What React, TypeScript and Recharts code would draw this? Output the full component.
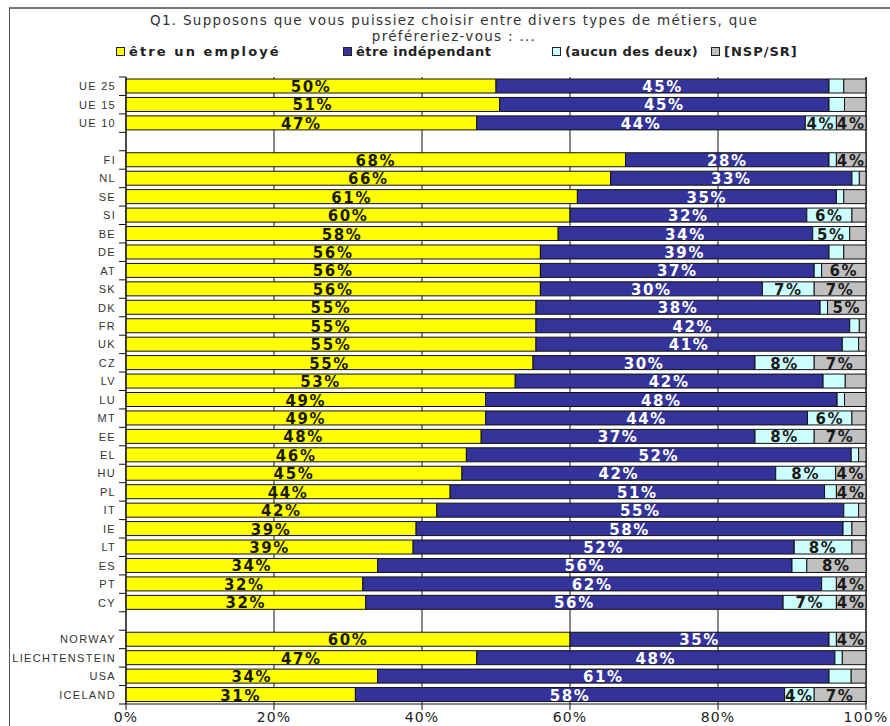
import React from 'react';
import { BarChart, Bar, XAxis, YAxis, CartesianGrid, LabelList } from 'recharts';

const categories = [
  'UE 25', 'UE 15', 'UE 10', '',
  'FI', 'NL', 'SE', 'SI', 'BE', 'DE', 'AT', 'SK', 'DK', 'FR', 'UK', 'CZ', 'LV', 'LU', 'MT',
  'EE', 'EL', 'HU', 'PL', 'IT', 'IE', 'LT', 'ES', 'PT', 'CY', ' ',
  'NORWAY', 'LIECHTENSTEIN', 'USA', 'ICELAND',
];

const employe = [
  50, 50.5, 47.4, null,
  67.5, 65.5, 61, 60, 58.4, 56, 56, 56, 55.4, 55.4, 55.4, 55, 52.6, 48.6, 48.6,
  48, 46, 45.4, 43.8, 42, 39.2, 38.8, 34, 32, 32.4, null,
  60, 47.4, 34, 31,
];

const independant = [
  45, 44.5, 44.4, null,
  27.5, 32.6, 35, 32, 34.4, 39, 37, 30, 38.4, 42.4, 41.4, 30, 41.6, 47.5, 43.5,
  37, 52, 42.4, 50.6, 55, 57.7, 51.5, 56, 62, 56.4, null,
  35, 48.4, 61, 58,
];

const aucun = [
  2, 2.1, 4.2, null,
  1, 1, 1, 6.1, 5, 2, 1, 7, 1, 1.3, 2.2, 8, 3, 1, 6,
  8, 1, 8.1, 1.6, 2, 1.2, 7.8, 2, 2, 7.2, null,
  1, 1, 3, 4,
];

const nsp = [
  3, 2.9, 4, null,
  4, 0.9, 3, 1.9, 2.2, 3, 6, 7, 5.2, 0.9, 1, 7, 2.8, 2.9, 1.9,
  7, 1, 4.1, 4, 1, 1.9, 1.9, 8, 4, 4, null,
  4, 3.2, 2, 7,
];

const xTicks = [0, 20, 40, 60, 80, 100];

const series = [
  { key: 'employe', name: 'être un employé', color: '#FFFF00', text: '#1a1a00', always: true },
  { key: 'independant', name: 'être indépendant', color: '#333399', text: '#ffffff', always: true },
  { key: 'aucun', name: '(aucun des deux)', color: '#CCFFFF', text: '#1a1a1a', always: false },
  { key: 'nsp', name: '[NSP/SR]', color: '#C0C0C0', text: '#1a1a1a', always: false },
];

// legend placement / spacing (styles only)
const legendLeft = [116, 343, 552, 711];
const legendSpacing = [2.1, 0.5, 0.4, 1];

const data = categories.map((name, i) => ({
  name,
  employe: employe[i],
  independant: independant[i],
  aucun: aucun[i],
  nsp: nsp[i],
}));

const W = 890;
const H = 726;
const MARGIN = { top: 77, right: 24, bottom: 2, left: 0 };
const X_AXIS_H = 20;
const Y_AXIS_W = 126;
const band = (H - MARGIN.top - MARGIN.bottom - X_AXIS_H) / categories.length;

const CategoryTick = (props: any) => {
  const { y, payload, index } = props;
  const ax = Y_AXIS_W;
  return (
    <g>
      <line x1={ax - 7} x2={ax} y1={y - band / 2} y2={y - band / 2} stroke="#111" />
      {index === categories.length - 1 && (
        <line x1={ax - 7} x2={ax} y1={y + band / 2} y2={y + band / 2} stroke="#111" />
      )}
      <text
        x={ax - 10}
        y={y}
        textAnchor="end"
        dominantBaseline="central"
        fontSize={11}
        letterSpacing={1.3}
        fontFamily="'Liberation Sans', Arial, sans-serif"
        fill="#333"
      >
        {payload.value}
      </text>
    </g>
  );
};

const makeLabel = (textColor: string, always: boolean) => (props: any) => {
  const { x, y, width, height, value } = props;
  if (value == null) return null;
  const v = Math.round(Number(value));
  if (!always && v < 4) return null;
  return (
    <text
      x={Number(x) + Number(width) / 2}
      y={Number(y) + Number(height) / 2 + 1}
      textAnchor="middle"
      dominantBaseline="central"
      fontSize={15}
      fontWeight="bold"
      letterSpacing={1.6}
      fontFamily="'DejaVu Sans', Verdana, sans-serif"
      fill={textColor}
    >
      {v}%
    </text>
  );
};

export default function App() {
  return (
    <div style={{ position: 'absolute', left: 0, top: 0, width: W, height: H, background: '#fff', overflow: 'hidden' }}>
      {/* frame */}
      <div style={{ position: 'absolute', left: 9, top: 7, width: W - 9, height: H - 7, borderTop: '2px solid #777', borderLeft: '1px solid #555' }} />

      {/* title */}
      <div
        style={{
          position: 'absolute', left: 0, top: 12, width: 908, textAlign: 'center',
          fontFamily: "'DejaVu Sans', Verdana, sans-serif", fontSize: 13.5, letterSpacing: 1.3,
          color: '#333', lineHeight: '16px',
        }}
      >
        Q1. Supposons que vous puissiez choisir entre divers types de métiers, que
        <br />
        préféreriez-vous : ...
      </div>

      {/* legend */}
      <div style={{ position: 'absolute', top: 44, left: 0, width: W, height: 18 }}>
        {series.map((s, i) => (
          <div
            key={s.key}
            style={{
              position: 'absolute', left: legendLeft[i], top: 0, display: 'flex', alignItems: 'center',
              fontFamily: "'DejaVu Sans', Verdana, sans-serif", fontSize: 13, fontWeight: 'bold',
              letterSpacing: legendSpacing[i], color: '#222', whiteSpace: 'nowrap',
            }}
          >
            <span style={{ display: 'inline-block', width: 7, height: 7, background: s.color, border: '1px solid #222', marginRight: 4 }} />
            {s.name}
          </div>
        ))}
      </div>

      <div style={{ position: 'absolute', left: 0, top: 0 }}>
        <BarChart
          width={W}
          height={H}
          data={data}
          layout="vertical"
          margin={MARGIN}
          barSize={14}
        >
          <CartesianGrid horizontal={false} vertical stroke="#111" />
          <XAxis
            type="number"
            domain={[0, 100]}
            ticks={xTicks}
            tickFormatter={(v: number) => `${v}%`}
            height={X_AXIS_H}
            tickSize={6}
            axisLine={{ stroke: '#111' }}
            tickLine={{ stroke: '#111' }}
            tick={{ fontSize: 14, fill: '#222', fontFamily: "'DejaVu Sans', Verdana, sans-serif", letterSpacing: 1.2 }}
            interval={0}
          />
          <YAxis
            type="category"
            dataKey="name"
            width={Y_AXIS_W}
            interval={0}
            tickLine={false}
            axisLine={{ stroke: '#111' }}
            tick={<CategoryTick />}
          />
          {series.map((s) => (
            <Bar
              key={s.key}
              dataKey={s.key}
              name={s.name}
              stackId="a"
              fill={s.color}
              stroke="#111"
              strokeWidth={1}
              isAnimationActive={false}
            >
              <LabelList dataKey={s.key} content={makeLabel(s.text, s.always)} />
            </Bar>
          ))}
        </BarChart>
      </div>
    </div>
  );
}
